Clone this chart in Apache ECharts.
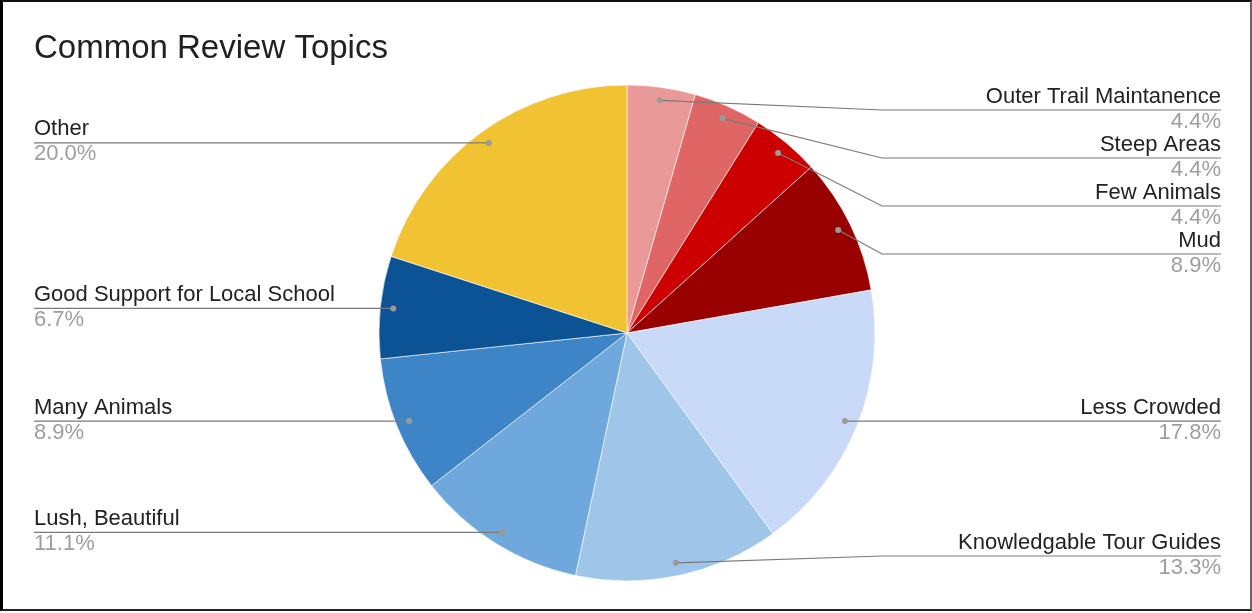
<!DOCTYPE html>
<html>
<head>
<meta charset="utf-8">
<title>Common Review Topics</title>
<script src="https://cdn.jsdelivr.net/npm/echarts@6/dist/echarts.min.js"></script>
<style>
  html, body { margin: 0; padding: 0; background: #fff; }
  #wrap { position: relative; width: 1252px; height: 613px; overflow: hidden; }
  #chart { position: absolute; left: 0; top: 0; width: 1252px; height: 613px; }
  #frame {
    position: absolute; left: 0; top: 0; width: 1247px; height: 607px;
    border-left: 3px solid #000; border-top: 2px solid #111;
    border-right: 2px solid #666; border-bottom: 2px solid #222;
    pointer-events: none;
  }
</style>
</head>
<body>
<div id="wrap">
  <div id="chart"></div>
  <div id="frame"></div>
</div>
<script>
// Review topic counts (clockwise from 12 o'clock)
const topics = [
  'Outer Trail Maintanence', 'Steep Areas', 'Few Animals', 'Mud',
  'Less Crowded', 'Knowledgable Tour Guides', 'Lush, Beautiful',
  'Many Animals', 'Good Support for Local School', 'Other'
];
const counts = [2, 2, 2, 4, 8, 6, 5, 4, 3, 9];
const sliceColors = [
  '#ea9999', '#e06666', '#cc0000', '#990000',
  '#c9daf8', '#9fc5e8', '#6fa8dc', '#3d85c6', '#0b5394', '#f1c232'
];

// Pie geometry
const CX = 627, CY = 333, R = 248;
const DOT_R = 235;            // radius where leader lines start
const RIGHT_EDGE = 1221, LEFT_EDGE = 34;
const LABEL_GAP = 48, LABEL_TOP = 110, LABEL_BOTTOM = 556;
const BEND_X = CX + R + 7;
const FONT = 'Liberation Sans, Arial, sans-serif';

const total = counts.reduce((a, b) => a + b, 0);

// Leader-line anchor and label row for every slice
const anchors = [];
let acc = 0;
counts.forEach((v, i) => {
  const mid = (acc + v / 2) / total * 2 * Math.PI;
  acc += v;
  anchors.push({
    i,
    x: CX + DOT_R * Math.sin(mid),
    y: CY - DOT_R * Math.cos(mid),
    right: Math.sin(mid) > 0
  });
});

function spread(list) {
  list.sort((a, b) => a.y - b.y);
  let prev = -Infinity;
  list.forEach(a => { a.ly = Math.max(a.y, prev + LABEL_GAP, LABEL_TOP); prev = a.ly; });
  let next = Infinity;
  for (let k = list.length - 1; k >= 0; k--) {
    const a = list[k];
    a.ly = Math.min(a.ly, next - LABEL_GAP, LABEL_BOTTOM);
    next = a.ly;
  }
}
spread(anchors.filter(a => a.right));
spread(anchors.filter(a => !a.right));

const pieData = topics.map((name, i) => ({
  name, value: counts[i], itemStyle: { color: sliceColors[i] }
}));
const ghostData = topics.map((name, i) => ({ name, value: counts[i] }));

const chart = echarts.init(document.getElementById('chart'), null, { renderer: 'canvas' });

chart.setOption({
  backgroundColor: '#fff',
  animation: false,
  title: {
    text: 'Common Review Topics',
    left: 29, top: 27,
    textStyle: { fontFamily: FONT, fontSize: 33, fontWeight: 'normal', color: '#212121' }
  },
  series: [
    {
      // the slices
      type: 'pie',
      center: [CX, CY],
      radius: R,
      startAngle: 90,
      clockwise: true,
      silent: true,
      z: 2,
      data: pieData,
      itemStyle: { borderColor: 'rgba(255,255,255,0.6)', borderWidth: 1 },
      label: { show: false },
      labelLine: { show: false }
    },
    {
      // labels with leader lines, drawn over the slices
      type: 'pie',
      center: [CX, CY],
      radius: R,
      startAngle: 90,
      clockwise: true,
      avoidLabelOverlap: false,
      silent: true,
      z: 4,
      data: ghostData,
      itemStyle: { color: 'rgba(0,0,0,0)', borderWidth: 0 },
      label: {
        show: true,
        position: 'outside',
        fontFamily: FONT,
        formatter: p => '{n|' + p.name + '}\n{p|' + (p.value / total * 100).toFixed(1) + '%}',
        rich: {
          n: { fontFamily: FONT, fontSize: 22, lineHeight: 25, color: '#222' },
          p: { fontFamily: FONT, fontSize: 22, lineHeight: 25, color: '#9e9e9e' }
        }
      },
      labelLine: { show: true, length: 10, length2: 10, lineStyle: { color: '#7a7a7a', width: 1.2 } },
      labelLayout: params => {
        const a = anchors[params.dataIndex];
        const endX = a.right ? RIGHT_EDGE : LEFT_EDGE;
        const bend = Math.abs(a.ly - a.y) > 1.5
          ? [a.right ? BEND_X : CX - R - 7, a.ly]
          : [a.x, a.ly];
        return {
          x: endX,
          y: a.ly - 1,
          align: a.right ? 'right' : 'left',
          verticalAlign: 'middle',
          labelLinePoints: [[a.x, a.y], bend, [endX, a.ly]]
        };
      },
      emphasis: { disabled: true }
    },
    {
      // grey dots at the inner end of each leader line
      type: 'pie',
      center: [CX, CY],
      radius: [DOT_R - 16, DOT_R + 10],
      startAngle: 90,
      clockwise: true,
      silent: true,
      z: 6,
      data: ghostData,
      itemStyle: { color: 'rgba(0,0,0,0)', borderWidth: 0 },
      label: {
        show: true,
        position: 'inside',
        align: 'center',
        verticalAlign: 'middle',
        formatter: '{d|}',
        rich: { d: { width: 6, height: 6, lineHeight: 6, fontSize: 6, borderRadius: 3, backgroundColor: '#9a9a9a' } }
      },
      labelLine: { show: false },
      emphasis: { disabled: true }
    }
  ]
});
</script>
</body>
</html>
